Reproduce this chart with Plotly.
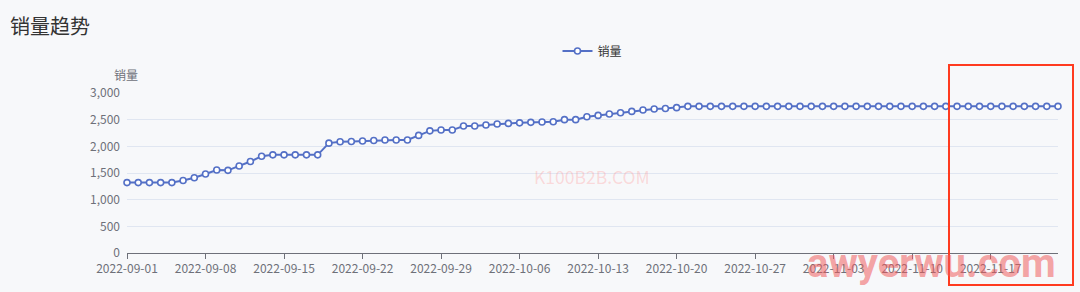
import plotly.graph_objects as go
import pandas as pd

start_date = "2022-09-01"
sales = [1320, 1320, 1320, 1320, 1320, 1360, 1410, 1480, 1555, 1550,
         1630, 1715, 1815, 1840, 1840, 1840, 1840, 1840, 2060, 2085,
         2090, 2100, 2110, 2120, 2120, 2120, 2205, 2290, 2305, 2305,
         2380, 2380, 2400, 2420, 2430, 2440, 2450, 2455, 2460, 2500,
         2500, 2555, 2580, 2605, 2630, 2655, 2680, 2700, 2710, 2725] + [2750] * 34
dates = pd.date_range(start_date, periods=len(sales), freq="D")
y_ticks = [0, 500, 1000, 1500, 2000, 2500, 3000]

W, H = 1080, 292
L, R, T, B = 127, 22, 93, 39
PW, PH = W - L - R, H - T - B


def px_x(px):
    return (px - L) / PW


def px_y(py):
    return (H - B - py) / PH


fig = go.Figure()
fig.add_trace(go.Scatter(
    x=dates, y=sales, mode="lines+markers", name="销量",
    line=dict(color="#5470c6", width=2),
    marker=dict(symbol="circle", size=6, color="#ffffff",
                line=dict(color="#5470c6", width=1.6)),
    cliponaxis=False,
))

font_family = "Noto Sans CJK SC, Noto Sans, sans-serif"
fig.update_layout(
    width=W, height=H,
    margin=dict(l=L, r=R, t=T, b=B, pad=0),
    paper_bgcolor="#f7f8fa", plot_bgcolor="#f7f8fa",
    font=dict(family=font_family, size=12, color="#6e7079"),
    title=dict(text="销量趋势", x=10 / W, xref="container", xanchor="left",
               y=1 - 27 / H, yref="container", yanchor="middle",
               font=dict(size=20, color="#333333", family=font_family)),
    showlegend=True,
    legend=dict(orientation="h", x=0.5, xanchor="center", xref="paper",
                y=1 - 51 / H, yref="container", yanchor="middle",
                font=dict(size=12, color="#333333"), itemwidth=30,
                bgcolor="rgba(0,0,0,0)"),
    xaxis=dict(type="date", range=[dates[0], dates[-1]],
               tick0=start_date, dtick=7 * 86400000, tickformat="%Y-%m-%d",
               showgrid=False, showline=True, linecolor="#6e7079", linewidth=1,
               ticks="outside", ticklen=5, tickcolor="#6e7079",
               tickfont=dict(size=12, color="#6e7079"), zeroline=False),
    yaxis=dict(range=[0, 3000], tickvals=y_ticks, tickformat=",d",
               showgrid=True, gridcolor="#e0e6f1", gridwidth=1,
               showline=False, zeroline=False, ticks="",
               ticklabelstandoff=6,
               tickfont=dict(size=12, color="#6e7079")),
)

# y-axis name
fig.add_annotation(text="销量", xref="paper", yref="paper", x=px_x(126), y=px_y(74),
                   xanchor="center", yanchor="middle", showarrow=False,
                   font=dict(size=12, color="#6e7079"))
# watermarks
fig.add_annotation(text="K100B2B.COM", xref="paper", yref="paper",
                   x=px_x(592), y=px_y(176), xanchor="center", yanchor="middle",
                   showarrow=False,
                   font=dict(size=17.5, color="rgba(255,140,140,0.3)"))
fig.add_annotation(text="awyerwu.com", xref="paper", yref="paper",
                   x=px_x(931), y=px_y(263), xanchor="center", yanchor="middle",
                   showarrow=False,
                   font=dict(size=40, color="rgba(240,90,90,0.55)",
                             family="Roboto, sans-serif", weight=700))
# red highlight box
fig.add_shape(type="rect", xref="paper", yref="paper",
              x0=px_x(949), x1=px_x(1073), y0=px_y(285), y1=px_y(65),
              line=dict(color="#ff3b1f", width=2), fillcolor="rgba(0,0,0,0)")

fig.write_html("out.html")
